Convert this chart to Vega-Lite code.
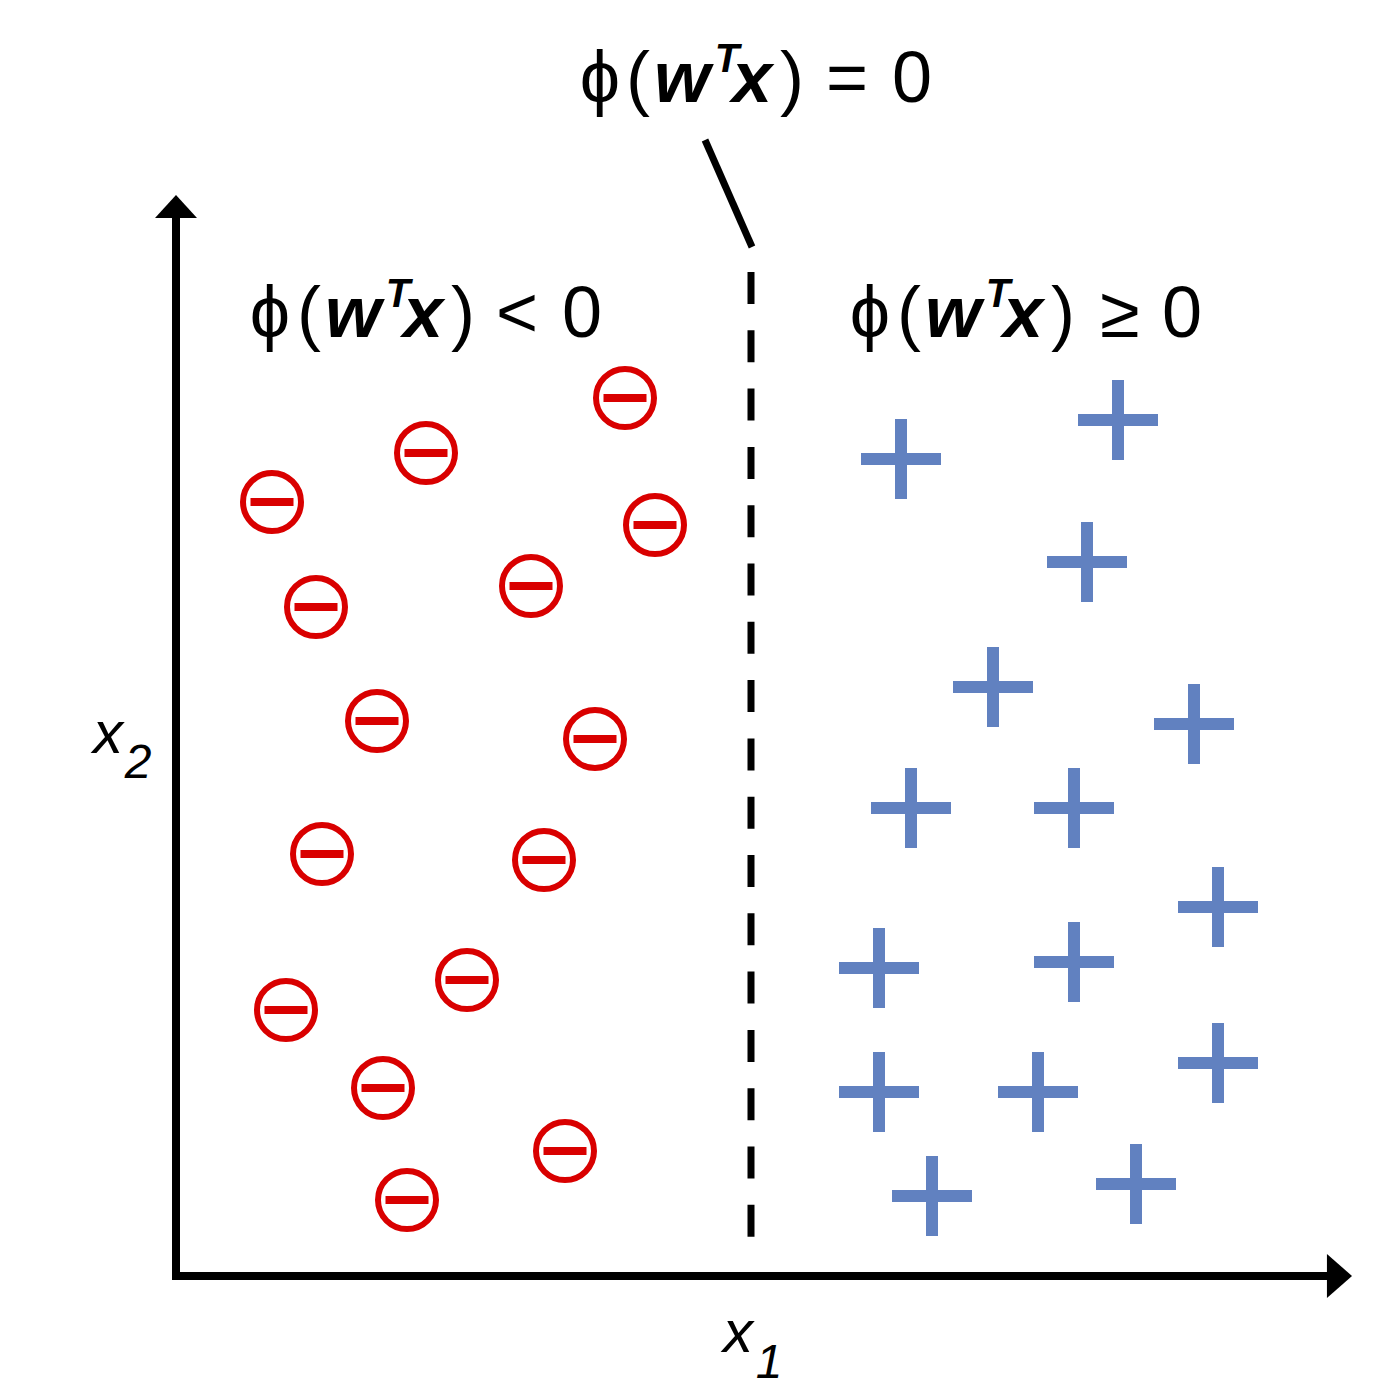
{
  "$schema": "https://vega.github.io/schema/vega-lite/v6.json",
  "width": 1374,
  "height": 1399,
  "padding": 0,
  "autosize": {"type": "fit", "contains": "padding"},
  "config": {"view": {"stroke": null}},
  "background": "white",
  "datasets": {
    "neg": [
      {"x": 625, "y": 398}, {"x": 426, "y": 453}, {"x": 272, "y": 502},
      {"x": 655, "y": 525}, {"x": 531, "y": 586}, {"x": 316, "y": 607},
      {"x": 377, "y": 721}, {"x": 595, "y": 739}, {"x": 322, "y": 854},
      {"x": 544, "y": 860}, {"x": 467, "y": 980}, {"x": 286, "y": 1010},
      {"x": 383, "y": 1088}, {"x": 565, "y": 1151}, {"x": 407, "y": 1200}
    ],
    "pos": [
      {"x": 1118, "y": 420}, {"x": 901, "y": 459}, {"x": 1087, "y": 562},
      {"x": 993, "y": 687}, {"x": 1194, "y": 724}, {"x": 911, "y": 808},
      {"x": 1074, "y": 808}, {"x": 1218, "y": 907}, {"x": 879, "y": 968},
      {"x": 1074, "y": 962}, {"x": 879, "y": 1092}, {"x": 1038, "y": 1092},
      {"x": 1218, "y": 1063}, {"x": 932, "y": 1196}, {"x": 1136, "y": 1184}
    ],
    "axes": [
      {"x": 176, "y": 1280, "x2": 176, "y2": 214},
      {"x": 172, "y": 1276, "x2": 1331, "y2": 1276}
    ],
    "pointer": [{"x": 705, "y": 140, "x2": 752, "y2": 247}],
    "boundary": [{"x": 751, "y": 272, "x2": 751, "y2": 1237}],
    "arrowUp": [{"x": 176, "y": 206.5}],
    "arrowRight": [{"x": 1339.5, "y": 1276}],
    "plain": [
      {"x": 600, "y": 102, "t": "ϕ"}, {"x": 638, "y": 102, "t": "("},
      {"x": 792, "y": 102, "t": ")"}, {"x": 847, "y": 102, "t": "="},
      {"x": 912, "y": 102, "t": "0"},
      {"x": 270, "y": 337, "t": "ϕ"}, {"x": 309, "y": 337, "t": "("},
      {"x": 463, "y": 337, "t": ")"}, {"x": 517, "y": 337, "t": "<"},
      {"x": 582, "y": 337, "t": "0"},
      {"x": 870, "y": 337, "t": "ϕ"}, {"x": 909, "y": 337, "t": "("},
      {"x": 1063, "y": 337, "t": ")"}, {"x": 1120, "y": 337, "t": "≥"},
      {"x": 1182, "y": 337, "t": "0"}
    ],
    "vec": [
      {"x": 682, "y": 102, "t": "w"}, {"x": 752, "y": 102, "t": "x"},
      {"x": 353, "y": 337, "t": "w"}, {"x": 423, "y": 337, "t": "x"},
      {"x": 953, "y": 337, "t": "w"}, {"x": 1023, "y": 337, "t": "x"}
    ],
    "sup": [
      {"x": 727, "y": 72, "t": "T"},
      {"x": 398, "y": 307, "t": "T"},
      {"x": 998, "y": 307, "t": "T"}
    ],
    "axisVar": [
      {"x": 108, "y": 753, "t": "x"},
      {"x": 738, "y": 1352, "t": "x"}
    ],
    "axisSub": [
      {"x": 138, "y": 778, "t": "2"},
      {"x": 769, "y": 1378, "t": "1"}
    ]
  },
  "encoding": {
    "x": {"field": "x", "type": "quantitative", "scale": {"domain": [0, 1374], "nice": false, "zero": false}, "axis": null},
    "y": {"field": "y", "type": "quantitative", "scale": {"domain": [0, 1399], "nice": false, "zero": false, "reverse": true}, "axis": null}
  },
  "layer": [
    {
      "data": {"name": "axes"},
      "mark": {"type": "rule", "color": "black", "strokeWidth": 8},
      "encoding": {"x2": {"field": "x2"}, "y2": {"field": "y2"}}
    },
    {
      "data": {"name": "pointer"},
      "mark": {"type": "rule", "color": "black", "strokeWidth": 7},
      "encoding": {"x2": {"field": "x2"}, "y2": {"field": "y2"}}
    },
    {
      "data": {"name": "boundary"},
      "mark": {"type": "rule", "color": "black", "strokeWidth": 7, "strokeDash": [32, 26.3]},
      "encoding": {"x2": {"field": "x2"}, "y2": {"field": "y2"}}
    },
    {
      "data": {"name": "arrowUp"},
      "mark": {"type": "point", "shape": "M0,-0.55L1,0.55L-1,0.55Z", "filled": true, "color": "black", "opacity": 1, "size": 1764}
    },
    {
      "data": {"name": "arrowRight"},
      "mark": {"type": "point", "shape": "M0.57,0L-0.57,1L-0.57,-1Z", "filled": true, "color": "black", "opacity": 1, "size": 1936}
    },
    {
      "data": {"name": "neg"},
      "mark": {"type": "point", "shape": "circle", "filled": false, "stroke": "#D90000", "strokeWidth": 6, "opacity": 1, "size": 3364}
    },
    {
      "data": {"name": "neg"},
      "mark": {"type": "point", "shape": "M-1,-0.186H1V0.186H-1Z", "filled": true, "color": "#D90000", "opacity": 1, "size": 1849}
    },
    {
      "data": {"name": "pos"},
      "mark": {"type": "point", "shape": "M-0.15,-1H0.15V-0.15H1V0.15H0.15V1H-0.15V0.15H-1V-0.15H-0.15Z", "filled": true, "color": "#6181C0", "opacity": 1, "size": 6400}
    },
    {
      "data": {"name": "plain"},
      "mark": {"type": "text", "font": "Liberation Sans, DejaVu Sans", "fontSize": 72, "align": "center", "baseline": "alphabetic", "color": "black"},
      "encoding": {"text": {"field": "t"}}
    },
    {
      "data": {"name": "vec"},
      "mark": {"type": "text", "font": "Liberation Sans", "fontSize": 72, "fontWeight": "bold", "fontStyle": "italic", "align": "center", "baseline": "alphabetic", "color": "black"},
      "encoding": {"text": {"field": "t"}}
    },
    {
      "data": {"name": "sup"},
      "mark": {"type": "text", "font": "Liberation Sans", "fontSize": 40, "fontWeight": "bold", "fontStyle": "italic", "align": "center", "baseline": "alphabetic", "color": "black"},
      "encoding": {"text": {"field": "t"}}
    },
    {
      "data": {"name": "axisVar"},
      "mark": {"type": "text", "font": "Liberation Sans", "fontSize": 60, "fontStyle": "italic", "align": "center", "baseline": "alphabetic", "color": "black"},
      "encoding": {"text": {"field": "t"}}
    },
    {
      "data": {"name": "axisSub"},
      "mark": {"type": "text", "font": "Liberation Sans", "fontSize": 48, "fontStyle": "italic", "align": "center", "baseline": "alphabetic", "color": "black"},
      "encoding": {"text": {"field": "t"}}
    }
  ]
}
